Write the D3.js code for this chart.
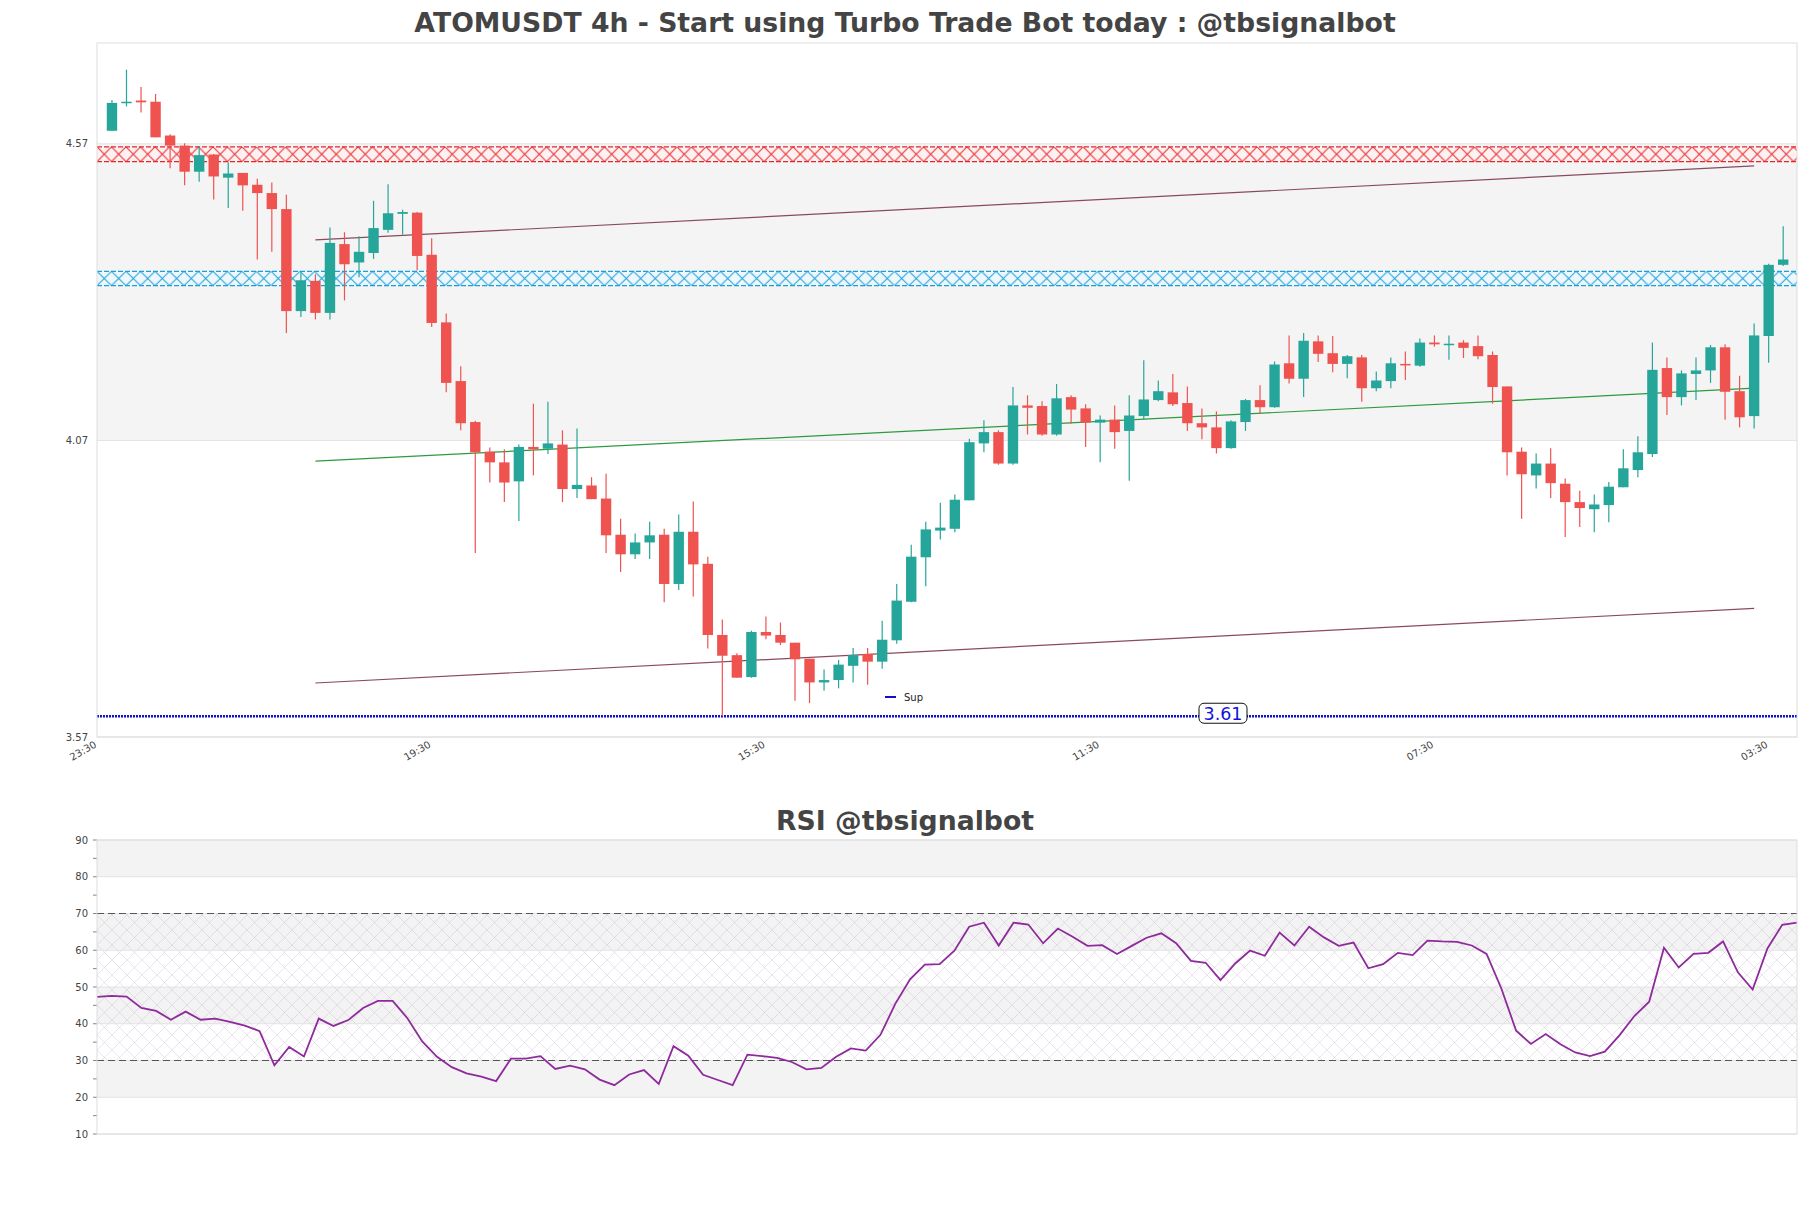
<!DOCTYPE html>
<html><head><meta charset="utf-8">
<script src="https://cdn.jsdelivr.net/npm/d3@7"></script>
<style>body{margin:0;background:#fff} text{font-family:"DejaVu Sans",sans-serif}</style>
</head><body><svg id="c" width="1811" height="1208"></svg>
<script>
const open = [4.592,4.639,4.643,4.641,4.584,4.567,4.523,4.552,4.513,4.521,
4.501,4.487,4.460,4.288,4.339,4.285,4.401,4.370,4.386,4.425,
4.452,4.454,4.383,4.269,4.170,4.101,4.051,4.033,4.001,4.059,
4.056,4.063,3.988,3.994,3.972,3.911,3.878,3.898,3.911,3.828,
3.916,3.862,3.742,3.708,3.671,3.747,3.742,3.729,3.702,3.662,
3.666,3.690,3.710,3.697,3.733,3.798,3.873,3.918,3.921,3.969,
4.065,4.084,4.031,4.129,4.128,4.080,4.143,4.124,4.100,4.105,
4.086,4.111,4.138,4.151,4.133,4.099,4.092,4.057,4.101,4.138,
4.126,4.200,4.174,4.237,4.217,4.199,4.210,4.158,4.170,4.199,
4.196,4.235,4.231,4.235,4.229,4.214,4.161,4.051,4.011,4.031,
3.997,3.966,3.954,3.961,3.991,4.020,4.047,4.192,4.143,4.182,
4.188,4.227,4.153,4.111,4.246,4.366];
const close = [4.639,4.641,4.640,4.581,4.567,4.523,4.551,4.515,4.520,4.500,
4.487,4.460,4.288,4.340,4.285,4.403,4.367,4.388,4.428,4.453,
4.455,4.381,4.268,4.167,4.099,4.050,4.033,3.999,4.059,4.055,
4.065,3.988,3.995,3.971,3.910,3.878,3.898,3.910,3.828,3.916,
3.861,3.742,3.707,3.670,3.747,3.741,3.729,3.701,3.662,3.666,
3.692,3.708,3.697,3.734,3.800,3.874,3.920,3.923,3.970,4.067,
4.084,4.031,4.129,4.125,4.080,4.141,4.122,4.100,4.105,4.084,
4.112,4.139,4.153,4.131,4.099,4.092,4.057,4.102,4.138,4.126,
4.198,4.174,4.238,4.216,4.199,4.212,4.158,4.171,4.200,4.197,
4.235,4.232,4.233,4.226,4.212,4.160,4.050,4.013,4.031,3.998,
3.966,3.956,3.962,3.992,4.023,4.050,4.189,4.143,4.183,4.188,
4.227,4.152,4.109,4.247,4.366,4.375];
const high = [4.644,4.695,4.666,4.654,4.586,4.571,4.566,4.553,4.539,4.521,
4.511,4.505,4.484,4.353,4.350,4.429,4.421,4.414,4.474,4.502,
4.459,4.455,4.411,4.284,4.195,4.103,4.058,4.055,4.063,4.132,
4.135,4.087,4.090,4.008,4.014,3.938,3.913,3.933,3.921,3.945,
3.967,3.874,3.768,3.711,3.749,3.773,3.763,3.729,3.702,3.684,
3.700,3.720,3.720,3.766,3.828,3.894,3.933,3.965,3.979,4.073,
4.104,4.087,4.160,4.146,4.136,4.165,4.146,4.131,4.112,4.129,
4.146,4.205,4.171,4.182,4.161,4.124,4.119,4.104,4.140,4.163,
4.203,4.247,4.251,4.247,4.246,4.214,4.214,4.186,4.210,4.220,
4.242,4.247,4.247,4.239,4.247,4.220,4.161,4.058,4.048,4.057,
4.006,3.985,3.979,4.000,4.055,4.077,4.235,4.210,4.188,4.210,
4.231,4.232,4.179,4.267,4.368,4.431];
const low = [4.592,4.633,4.623,4.581,4.529,4.500,4.506,4.476,4.462,4.457,
4.375,4.388,4.251,4.278,4.274,4.274,4.306,4.345,4.376,4.420,
4.417,4.357,4.261,4.151,4.087,3.880,3.999,3.966,3.934,4.011,
4.047,3.966,3.973,3.971,3.880,3.848,3.870,3.870,3.797,3.818,
3.807,3.719,3.605,3.670,3.670,3.735,3.725,3.631,3.627,3.648,
3.652,3.662,3.658,3.685,3.727,3.797,3.824,3.903,3.915,3.969,
4.050,4.029,4.029,4.080,4.078,4.078,4.098,4.059,4.033,4.056,
4.002,4.105,4.136,4.128,4.086,4.072,4.048,4.056,4.086,4.115,
4.125,4.166,4.143,4.202,4.185,4.175,4.135,4.153,4.158,4.172,
4.194,4.228,4.206,4.209,4.207,4.132,4.011,3.938,3.989,3.973,
3.907,3.924,3.915,3.932,3.991,4.008,4.042,4.113,4.129,4.138,
4.167,4.105,4.092,4.090,4.201,4.364];
const rsi = [47.3,47.6,47.4,44.3,43.5,41.1,43.3,41.1,41.4,40.5,
39.5,38.0,28.7,33.7,31.1,41.4,39.4,41.0,44.3,46.2,
46.2,41.5,35.2,31.0,28.2,26.5,25.6,24.4,30.5,30.5,
31.2,27.7,28.6,27.6,24.8,23.3,26.2,27.4,23.6,33.9,
31.3,26.1,24.7,23.3,31.6,31.2,30.7,29.6,27.6,28.0,
31.0,33.3,32.7,37.0,45.4,52.1,56.1,56.2,59.9,66.4,
67.5,61.3,67.5,67.0,61.9,65.9,63.7,61.2,61.4,59.0,
61.2,63.4,64.6,61.9,57.1,56.6,51.9,56.4,59.9,58.5,
64.8,61.3,66.4,63.5,61.2,62.1,55.1,56.2,59.3,58.7,
62.6,62.4,62.3,61.3,59.0,49.6,38.1,34.5,37.2,34.4,
32.2,31.2,32.4,36.9,42.1,46.0,60.7,55.3,59.0,59.3,
62.4,54.0,49.3,60.5,66.9,67.5];
const tickLabels = ["23:30","19:30","15:30","11:30","07:30","03:30"];
const tickIndex = [-1,22,45,68,91,114];
const priceTicks = [3.57,4.07,4.57];
const rsiTicks = [10,20,30,40,50,60,70,80,90];
const zones = [{lo:4.540,hi:4.565,color:"#e8252b",bg:"#fdf1f1"},{lo:4.331,hi:4.355,color:"#1a9fd8",bg:"#eef7fc"}];
const trendLines = [
  {i0:14,p0:4.408,i1:113,p1:4.533,color:"#8a4a5c"},
  {i0:14,p0:4.035,i1:113,p1:4.158,color:"#2e9a3e"},
  {i0:14,p0:3.661,i1:113,p1:3.787,color:"#8a4a5c"}];
const support = 3.605;
const supportLabel = "3.61";

const svg = d3.select("#c");
const L=97, R=1797, T=43, B=737;
const x = d3.scaleLinear().domain([-1.03,115.95]).range([L,R]);
const y = d3.scaleLinear().domain([3.57,4.74]).range([B,T]);
const defs = svg.append("defs");

zones.forEach((z,k)=>{
  const h = y(z.lo)-y(z.hi), w = 14.5;
  const p = defs.append("pattern").attr("id","zp"+k).attr("patternUnits","userSpaceOnUse")
    .attr("width",w).attr("height",h).attr("x",L).attr("y",y(z.hi));
  p.append("rect").attr("width",w).attr("height",h).attr("fill",z.bg);
  p.append("path").attr("d",`M0,0L${w},${h}M${w},0L0,${h}`).attr("stroke",z.color).attr("stroke-width",1).attr("fill","none");
});
const rp = defs.append("pattern").attr("id","rh").attr("patternUnits","userSpaceOnUse").attr("width",15).attr("height",15).attr("x",L).attr("y",0);
rp.append("path").attr("d","M0,0L15,15M15,0L0,15").attr("stroke","#c4b2cf").attr("stroke-width",0.6).attr("opacity",0.6).attr("fill","none");

// Title
svg.append("text").attr("x",905).attr("y",32).attr("text-anchor","middle")
  .attr("font-size",26.7).attr("font-weight","bold").attr("fill","#444")
  .text("ATOMUSDT 4h - Start using Turbo Trade Bot today : @tbsignalbot");

// main plot background
svg.append("rect").attr("x",L).attr("y",T).attr("width",R-L).attr("height",B-T).attr("fill","#fff");
svg.append("rect").attr("x",L).attr("y",y(4.57)).attr("width",R-L).attr("height",y(4.07)-y(4.57)).attr("fill","#f4f4f4");
priceTicks.forEach(v=>{
  svg.append("line").attr("x1",L).attr("x2",R).attr("y1",y(v)).attr("y2",y(v)).attr("stroke","#e2e2e2");
  svg.append("text").attr("x",L-9).attr("y",y(v)).attr("dy","0.35em").attr("text-anchor","end")
    .attr("font-size",10).attr("fill","#444").text(v.toFixed(2));
});
// zones
zones.forEach((z,k)=>{
  svg.append("rect").attr("x",L).attr("y",y(z.hi)).attr("width",R-L).attr("height",y(z.lo)-y(z.hi))
    .attr("fill",`url(#zp${k})`);
  [z.hi,z.lo].forEach(v=>svg.append("line").attr("x1",L).attr("x2",R).attr("y1",y(v)).attr("y2",y(v))
    .attr("stroke",z.color).attr("stroke-width",1.2).attr("stroke-dasharray","5,2"));
});
// support
svg.append("line").attr("x1",L).attr("x2",R).attr("y1",y(support)).attr("y2",y(support))
  .attr("stroke","#1010c8").attr("stroke-width",2.5).attr("stroke-dasharray","2,1");
// trend lines
trendLines.forEach(t=>svg.append("line").attr("x1",x(t.i0)).attr("x2",x(t.i1)).attr("y1",y(t.p0)).attr("y2",y(t.p1))
  .attr("stroke",t.color).attr("stroke-width",1.2));
// candles
const g = svg.append("g");
open.forEach((o,i)=>{
  const c = close[i], up = c>=o, col = up?"#26a69a":"#ef5350";
  g.append("line").attr("x1",x(i)).attr("x2",x(i)).attr("y1",y(high[i])).attr("y2",y(low[i])).attr("stroke",col).attr("stroke-width",1.2);
  const top=y(Math.max(o,c)), bot=y(Math.min(o,c));
  g.append("rect").attr("x",x(i)-5.2).attr("width",10.4).attr("y",top).attr("height",Math.max(bot-top,1.5)).attr("fill",col);
});
// legend
svg.append("line").attr("x1",885).attr("x2",896).attr("y1",697).attr("y2",697).attr("stroke","#1010c8").attr("stroke-width",2);
svg.append("text").attr("x",904).attr("y",697).attr("dy","0.35em").attr("font-size",10).attr("fill","#222").text("Sup");
// support label
const lx = 1223, ly = y(support)-3;
svg.append("rect").attr("x",lx-24).attr("y",ly-10).attr("width",48).attr("height",20).attr("rx",5)
  .attr("fill","#fff").attr("stroke","#111").attr("stroke-width",1);
svg.append("text").attr("x",lx).attr("y",ly).attr("dy","0.36em").attr("text-anchor","middle")
  .attr("font-size",17.5).attr("fill","#1212e0").text(supportLabel);
// frame
svg.append("rect").attr("x",L).attr("y",T).attr("width",R-L).attr("height",B-T).attr("fill","none").attr("stroke","#ddd");
// x tick labels
tickIndex.forEach((ti,k)=>{
  svg.append("text").attr("transform",`translate(${x(ti)-4},${B+3}) rotate(-30)`).attr("text-anchor","end")
    .attr("dy","0.75em").attr("font-size",10).attr("fill","#444").text(tickLabels[k]);
});

// RSI panel
const RT=840, RB=1134;
const ry = d3.scaleLinear().domain([10,90]).range([RB,RT]);
const rx = d3.scaleLinear().domain([0,rsi.length-1]).range([L,R]);
svg.append("text").attr("x",905).attr("y",830).attr("text-anchor","middle")
  .attr("font-size",26.7).attr("font-weight","bold").attr("fill","#444").text("RSI @tbsignalbot");
[[80,90],[60,70],[40,50],[20,30]].forEach(b=>svg.append("rect").attr("x",L).attr("width",R-L)
  .attr("y",ry(b[1])).attr("height",ry(b[0])-ry(b[1])).attr("fill","#f3f3f4"));
svg.append("rect").attr("x",L).attr("width",R-L).attr("y",ry(70)).attr("height",ry(30)-ry(70)).attr("fill","url(#rh)");
rsiTicks.forEach(v=>{
  svg.append("line").attr("x1",L).attr("x2",R).attr("y1",ry(v)).attr("y2",ry(v)).attr("stroke","#e2e2e2");
  svg.append("text").attr("x",L-9).attr("y",ry(v)).attr("dy","0.35em").attr("text-anchor","end")
    .attr("font-size",10).attr("fill","#444").text(v);
});
d3.range(10,91,5).forEach(v=>svg.append("line").attr("x1",L-4).attr("x2",L).attr("y1",ry(v)).attr("y2",ry(v)).attr("stroke","#666").attr("stroke-width",0.8));
[70,30].forEach(v=>svg.append("line").attr("x1",L).attr("x2",R).attr("y1",ry(v)).attr("y2",ry(v))
  .attr("stroke","#555").attr("stroke-width",1.2).attr("stroke-dasharray","7,4"));
svg.append("path").datum(rsi).attr("d",d3.line().x((d,i)=>rx(i)).y(d=>ry(d)))
  .attr("fill","none").attr("stroke","#8e2a9c").attr("stroke-width",1.8);
svg.append("rect").attr("x",L).attr("y",RT).attr("width",R-L).attr("height",RB-RT).attr("fill","none").attr("stroke","#ddd");
</script></body></html>
